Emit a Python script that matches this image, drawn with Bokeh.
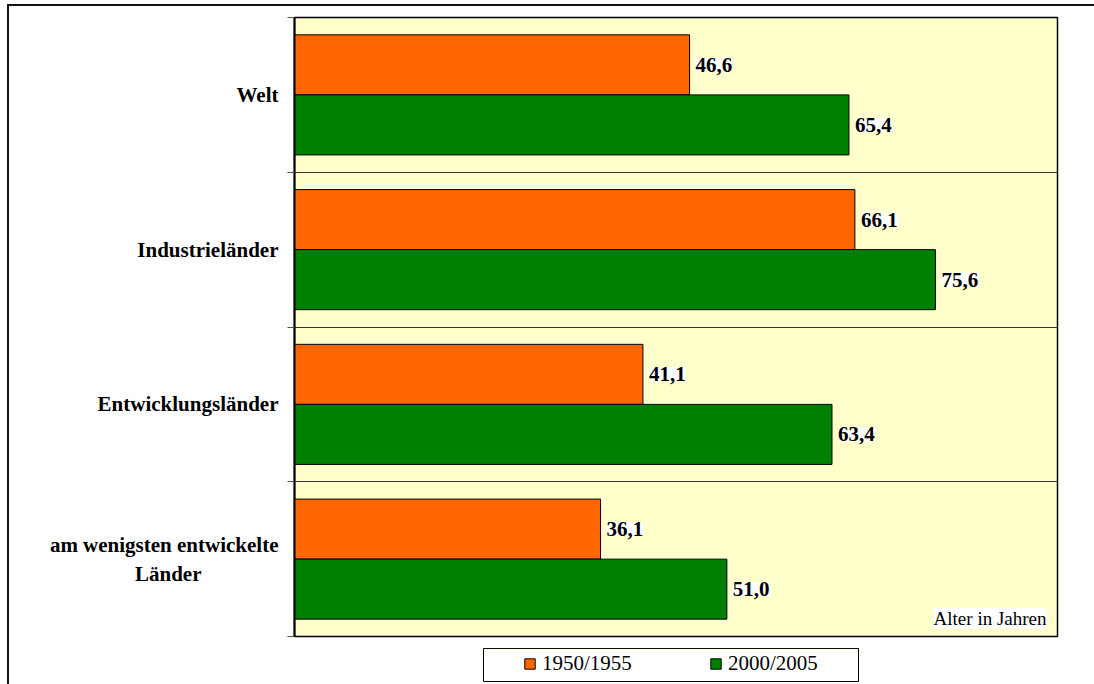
from bokeh.plotting import figure
from bokeh.layouts import column
from bokeh.models import (ColumnDataSource, Range1d, FixedTicker, Label, LabelSet,
                          Legend, LegendItem)
from bokeh.embed import file_html
from bokeh.resources import INLINE

# ---- data ----
NBSP = "\u00a0"
categories = ["Welt", "Industrieländer", "Entwicklungsländer",
              "am wenigsten entwickelte\nLänder" + NBSP * 14 + "\u2006"]
series_names = ["1950/1955", "2000/2005"]
values_1950 = [46.6, 66.1, 41.1, 36.1]
values_2000 = [65.4, 75.6, 63.4, 51.0]
axis_note = "Alter in Jahren"
x_max = 90

# ---- styles ----
ORANGE = "#FF6600"
GREEN = "#008000"
BG = "#FFFFCC"
FONT = "Liberation Serif"

n = len(categories)
centers = [n - i - 0.5 for i in range(n)]
off = 0.194
bar_h = 0.388


def fmt(v):
    return f"{v:.1f}".replace(".", ",")


# ---------------- main chart ----------------
p = figure(width=1094, height=638, x_range=Range1d(0, x_max), y_range=Range1d(0, n),
           x_axis_type=None, output_backend="svg", toolbar_location=None,
           min_border_left=294, min_border_right=37, min_border_top=17, min_border_bottom=2)
p.frame_align = False

p.stylesheets = [
    ":host { position: relative; }"
    ":host::after { content: ''; position: absolute; left: 7px; top: 4px; right: 0px; bottom: 0px;"
    " border-left: 2px solid #111111; border-top: 2px solid #111111;"
    " pointer-events: none; z-index: 100; }"
]

p.background_fill_color = BG
p.border_fill_color = "white"
p.outline_line_color = "black"
p.outline_line_width = 1.5

p.ygrid.ticker = FixedTicker(ticks=[1, 2, 3])
p.ygrid.grid_line_color = "#333333"
p.ygrid.grid_line_width = 1

p.yaxis.ticker = FixedTicker(ticks=centers, minor_ticks=list(range(n + 1)))
p.yaxis.major_label_overrides = {c: cat for c, cat in zip(centers, categories)}
p.yaxis.major_label_text_font = FONT
p.yaxis.major_label_text_font_style = "bold"
p.yaxis.major_label_text_font_size = "21px"
p.yaxis.major_label_text_color = "black"
p.yaxis.major_label_standoff = 9
p.yaxis.axis_line_width = 2
p.yaxis.axis_line_color = "black"
p.yaxis.major_tick_out = 0
p.yaxis.major_tick_in = 0
p.yaxis.minor_tick_out = 7
p.yaxis.minor_tick_in = 0
p.yaxis.minor_tick_line_color = "#555555"

src1 = ColumnDataSource(dict(y=[c + off for c in centers], right=values_1950,
                             label=[fmt(v) for v in values_1950]))
src2 = ColumnDataSource(dict(y=[c - off for c in centers], right=values_2000,
                             label=[fmt(v) for v in values_2000]))

r1 = p.hbar(y="y", left=0, right="right", height=bar_h, source=src1,
            fill_color=ORANGE, line_color="black", line_width=1)
r2 = p.hbar(y="y", left=0, right="right", height=bar_h, source=src2,
            fill_color=GREEN, line_color="black", line_width=1)

for src in (src1, src2):
    p.add_layout(LabelSet(x="right", y="y", text="label", source=src, x_offset=6,
                          text_baseline="middle", text_align="left",
                          text_font=FONT, text_font_style="bold", text_font_size="21px",
                          text_color="black", background_fill_color="white"))

p.add_layout(Label(x=x_max, y=0.116, x_offset=-11, text=axis_note, text_align="right",
                   text_baseline="middle", text_font=FONT, text_font_size="19px",
                   text_color="black", background_fill_color="white"))

# ---------------- legend strip (its frame is the legend box) ----------------
lg = figure(width=1094, height=46, x_range=Range1d(0, 1), y_range=Range1d(0, 1),
            x_axis_type=None, y_axis_type=None, output_backend="svg", toolbar_location=None,
            min_border_left=483, min_border_right=236, min_border_top=10, min_border_bottom=3)
lg.frame_align = False
lg.stylesheets = [
    ":host { position: relative; }"
    ":host::after { content: ''; position: absolute; left: 7px; top: 0px; right: 0px; bottom: 0px;"
    " border-left: 2px solid #111111; pointer-events: none; z-index: 100; }"
]
lg.background_fill_color = "white"
lg.border_fill_color = "white"
lg.outline_line_color = "black"
lg.outline_line_width = 1
lg.xgrid.visible = False
lg.ygrid.visible = False

# legend swatches: same styling as the bars, their single point lies outside the strip's view
k1 = lg.hbar(y=[10], left=0, right=[1], height=0.5,
             fill_color=ORANGE, line_color="black", line_width=1)
k2 = lg.hbar(y=[10], left=0, right=[1], height=0.5,
             fill_color=GREEN, line_color="black", line_width=1)

legend = Legend(items=[LegendItem(label=series_names[0], renderers=[k1]),
                       LegendItem(label=series_names[1], renderers=[k2])],
                orientation="horizontal", location=(35, 0),
                glyph_width=13, glyph_height=13, label_standoff=6, spacing=77,
                label_width=90, padding=5, margin=0,
                border_line_alpha=0, background_fill_alpha=0,
                label_text_font=FONT, label_text_font_size="21px", label_text_color="black")
lg.add_layout(legend, "center")

layout = column(p, lg, spacing=0)

open("out.html", "w").write(file_html(layout, INLINE))
